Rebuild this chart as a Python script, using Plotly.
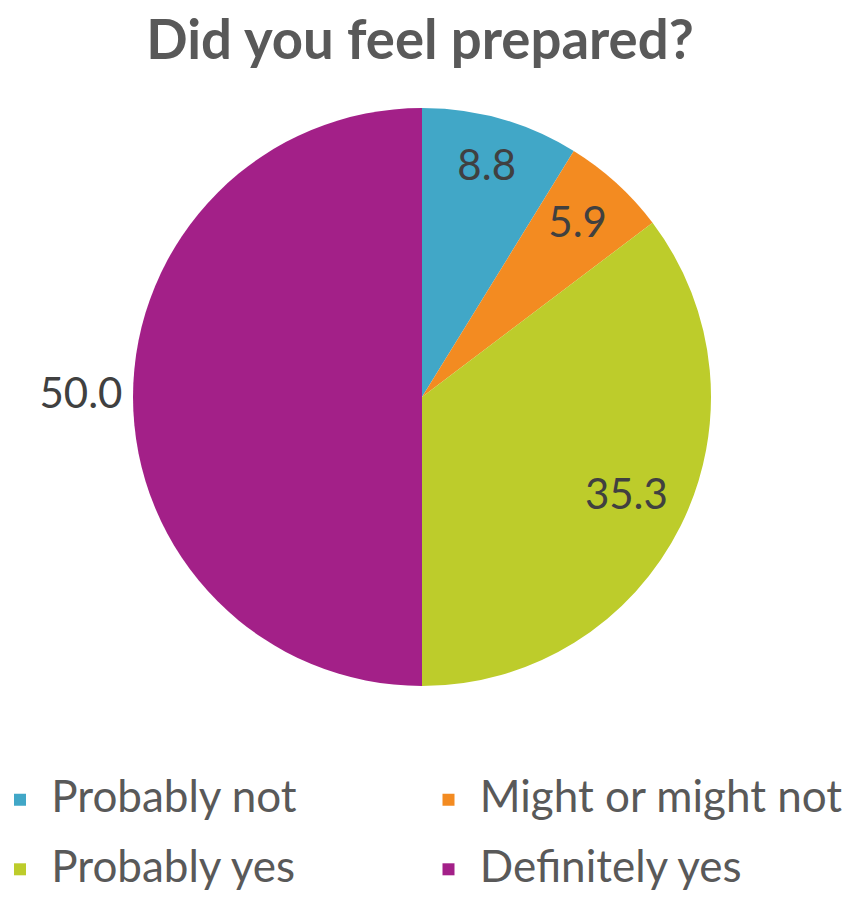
import plotly.graph_objects as go

categories = ["Probably not", "Might or might not", "Probably yes", "Definitely yes"]
values = [8.8, 5.9, 35.3, 50.0]
colors = ["#41A7C7", "#F38B21", "#BDCC2B", "#A32088"]
label_radius = [0.82, 0.80, 0.79, 1.18]   # 1.18 -> label outside the pie

W, H = 857, 897
cx, cy, r = 422, 397, 289
RMAX = 1.25                      # radial range, leaves room for the outside label
R = r * RMAX
dom = dict(x=[(cx - R) / W, (cx + R) / W], y=[(H - cy - R) / H, (H - cy + R) / H])
label_font = dict(family="Lato", size=42, color="#404040")

total = sum(values)
mids, widths, bounds = [], [], []
acc = 0.0
for v in values:
    bounds.append(acc / total * 360)
    mids.append((acc + v / 2) / total * 360)
    widths.append(v / total * 360)
    acc += v

fig = go.Figure()
for k, (name, v, c) in enumerate(zip(categories, values, colors)):
    fig.add_trace(go.Barpolar(
        r=[1], theta=[mids[k]], width=[widths[k]], base=0,
        name=f'<span style="font-size:44px">\u00a0{name}</span>',
        marker=dict(color=c, line=dict(width=0)),
        legend="legend" if k < 2 else "legend2",
        hovertext=[f"{name}: {v:.1f}"], hoverinfo="text",
    ))

fig.add_trace(go.Scatterpolar(
    r=label_radius,
    theta=mids,
    text=[f"{v:.1f}" for v in values],
    mode="text",
    textfont=label_font,
    textposition="middle center",
    cliponaxis=False,
    showlegend=False,
    hoverinfo="skip",
))

legend_common = dict(orientation="h", x=0.0, xanchor="left",
                     entrywidth=0.5, entrywidthmode="fraction",
                     font=dict(family="Lato", size=32, color="#595959"),
                     traceorder="normal", bgcolor="rgba(0,0,0,0)")

fig.update_layout(
    width=W, height=H,
    margin=dict(l=0, r=0, t=0, b=0),
    paper_bgcolor="white",
    title=dict(text="<b>Did you feel prepared?</b>", x=420 / W, xanchor="center", y=1 - 40 / H, yanchor="middle",
               font=dict(family="Lato", size=54.5, color="#595959")),
    polar=dict(domain=dom, bgcolor="rgba(0,0,0,0)",
               radialaxis=dict(visible=False, range=[0, RMAX]),
               angularaxis=dict(visible=True, rotation=90, direction="clockwise",
                                tickmode="array", tickvals=bounds, showticklabels=False, ticks="",
                                showline=False, showgrid=True, gridcolor="white", gridwidth=3,
                                layer="above traces")),
    legend=dict(y=(H - 800) / H, yanchor="middle", **legend_common),
    legend2=dict(y=0, yanchor="bottom", **legend_common),
)

fig.write_html("out.html")
